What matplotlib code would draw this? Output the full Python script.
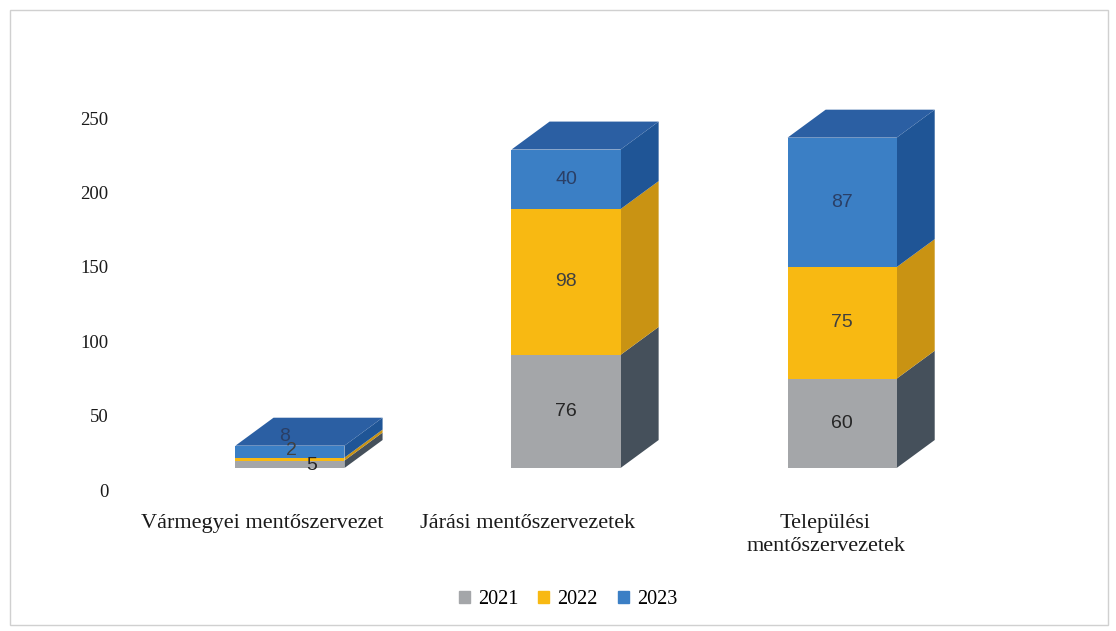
import matplotlib
matplotlib.use("Agg")
import matplotlib.pyplot as plt
from matplotlib.patches import Polygon, Rectangle
import numpy as np

categories = ["Vármegyei mentőszervezet", "Járási mentőszervezetek", "Települési\nmentőszervezetek"]
years = ["2021", "2022", "2023"]
v2021 = [5, 76, 60]
v2022 = [2, 98, 75]
v2023 = [8, 40, 87]
yticks = [0, 50, 100, 150, 200, 250]

front_colors = ["#a4a6a9", "#f8b912", "#3b7fc5"]
side_colors = ["#45505b", "#c99313", "#1f5596"]
top_color = "#2b5fa3"
label_colors = ["#262626", "#404040", "#2a3f66"]

fig = plt.figure(figsize=(11.16, 6.31), dpi=100)
ax = fig.add_axes([100/1116, 131/631, 900/1116, 400/631])

W = 0.395       # front width (category units)
DX = 0.138      # depth offset x
DY = 18.8       # depth offset y (value units)
TICK_SHIFT = 14.8
label_shift = [-0.1, -0.14, -0.06]

x = np.arange(len(categories))
series = [v2021, v2022, v2023]
bottom = np.zeros(len(categories))
for si, vals in enumerate(series):
    vals = np.array(vals, dtype=float)
    ax.bar(x, vals, W, bottom=bottom, color=front_colors[si], zorder=2, linewidth=0)
    for i in range(len(x)):
        xr = x[i] + W / 2
        y0, y1 = bottom[i], bottom[i] + vals[i]
        side = Polygon([(xr, y0), (xr + DX, y0 + DY), (xr + DX, y1 + DY), (xr, y1)],
                       closed=True, facecolor=side_colors[si], edgecolor="none", zorder=1)
        ax.add_patch(side)
    bottom = bottom + vals

for i in range(len(x)):
    xl, xr = x[i] - W / 2, x[i] + W / 2
    t = bottom[i]
    top = Polygon([(xl, t), (xr, t), (xr + DX, t + DY), (xl + DX, t + DY)],
                  closed=True, facecolor=top_color, edgecolor="none", zorder=3)
    ax.add_patch(top)

# data labels
small_offsets = {0: [(16, -1), (1, 6), (-4, 11)]}
bottom = np.zeros(len(categories))
for si, vals in enumerate(series):
    for i in range(len(x)):
        yc = bottom[i] + vals[i] / 2
        off = small_offsets.get(i, [(0, 0)] * 3)[si]
        ax.annotate(str(vals[i]), (x[i], yc), xytext=off, textcoords="offset points",
                    ha="center", va="center", fontsize=14, color=label_colors[si],
                    family="Liberation Sans", zorder=5)
    bottom = bottom + np.array(vals)

ax.set_xlim(-0.688, 2.572)
ax.set_ylim(-21.5, 247.3)
ax.set_yticks([v - TICK_SHIFT for v in yticks])
ax.set_yticklabels([str(v) for v in yticks], family="Liberation Serif", fontsize=13.5)
ax.set_xticks(x + np.array(label_shift))
ax.set_xticklabels(categories, family="Liberation Serif", fontsize=16, linespacing=1.3)
ax.tick_params(axis="both", length=0, colors="#1a1a1a")
ax.tick_params(axis="y", pad=-6)
ax.tick_params(axis="x", pad=10)
for s in ax.spines.values():
    s.set_visible(False)

handles = [Rectangle((0, 0), 1, 1, color=c) for c in front_colors]
leg = fig.legend(handles, years, loc="center", bbox_to_anchor=(568/1116, 1 - 600/631),
                 ncol=3, frameon=False, handlelength=0.55, handleheight=0.55,
                 handletextpad=0.4, columnspacing=1.0,
                 prop={"family": "Liberation Serif", "size": 14.5})

fig.patches.append(Rectangle((10/1116, 6/631), 1098/1116, 615/631, transform=fig.transFigure,
                             fill=False, edgecolor="#d0d0d0", linewidth=1))

fig.savefig("out.png", dpi=100)
